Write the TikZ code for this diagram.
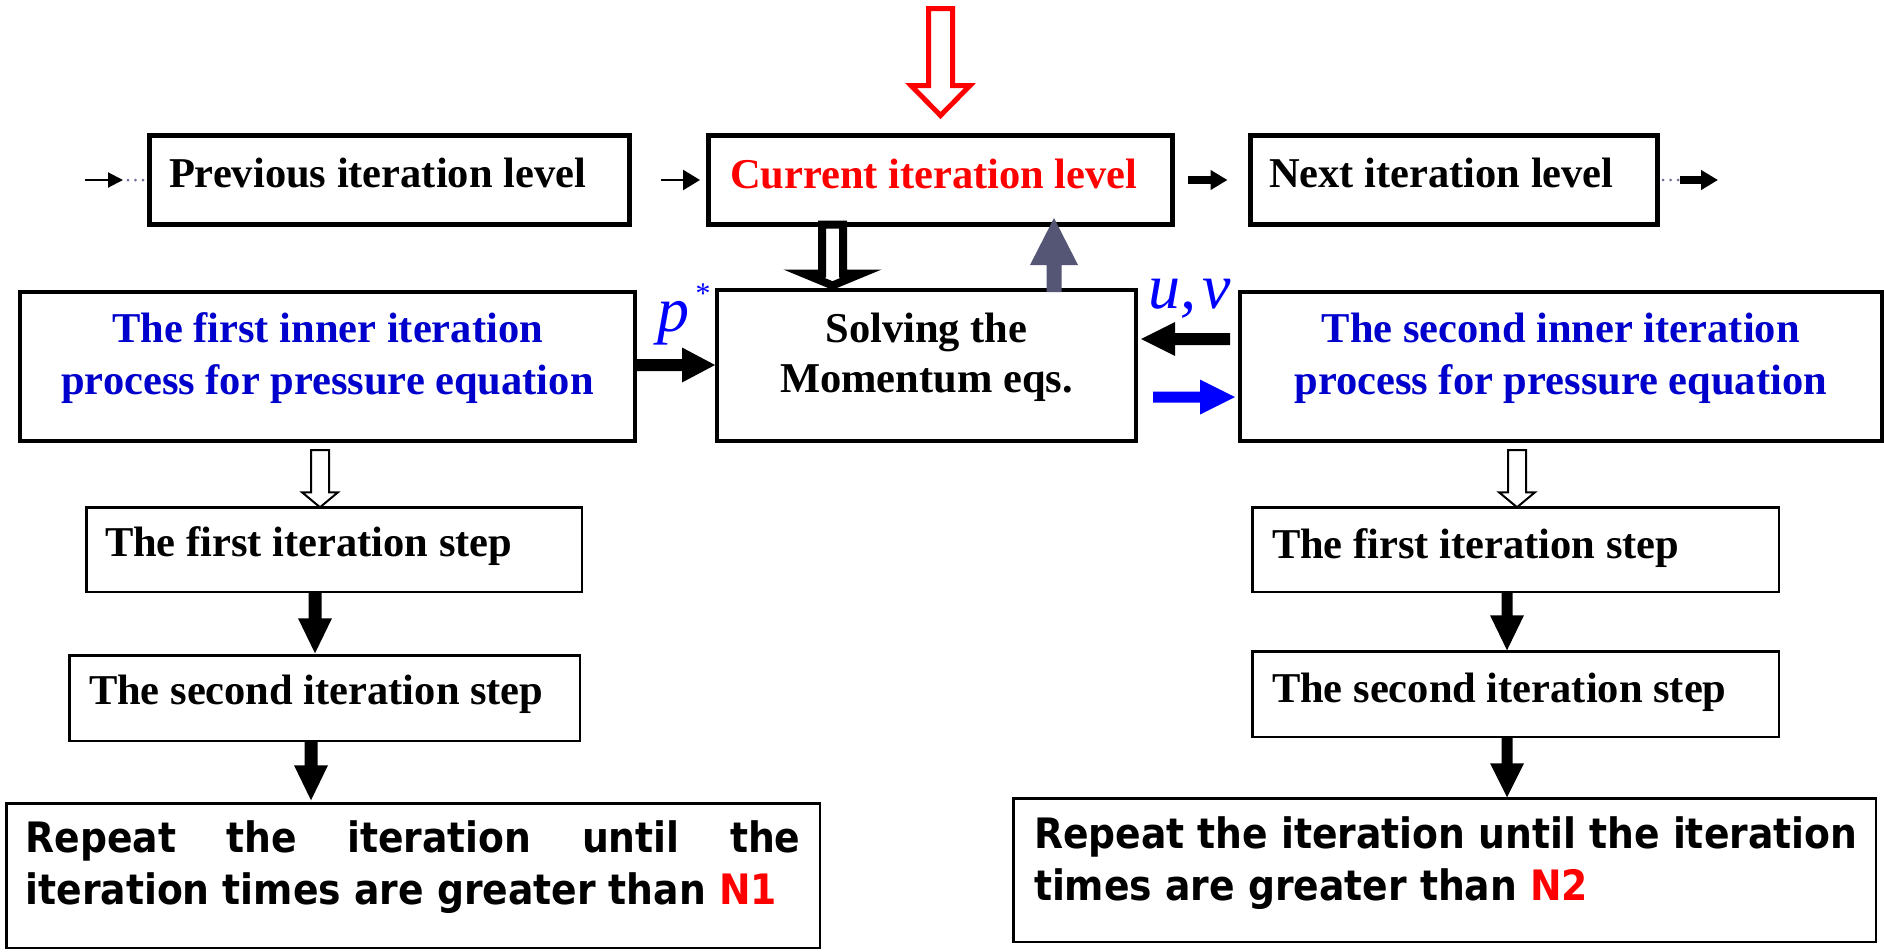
\documentclass[tikz,border=0pt]{standalone}
\usepackage{fontspec}
\setmainfont{Liberation Serif}
\newfontfamily\dejasans{DejaVu Sans}[FakeStretch=0.9]
\newfontfamily\labelserif{Liberation Serif}
\usetikzlibrary{calc,arrows.meta}
\definecolor{txtblue}{RGB}{0,0,204}
\definecolor{pureblue}{RGB}{0,0,255}
\definecolor{slate}{RGB}{85,85,117}
\definecolor{dotgray}{RGB}{110,110,150}
\newcommand\serifbig{\fontsize{42.5}{52}\selectfont\bfseries}
\newcommand\sansbig{\dejasans\fontsize{41.9}{52}\selectfont\bfseries}
% #1 style, #2 start, #3 tip, #4 shaft half width, #5 head half width, #6 head length
\newcommand\blockarrow[6]{%
  \coordinate (bahead) at ($(#3)!#6!(#2)$);
  \path[#1] ($(#2)!#4!90:(#3)$) -- ($(bahead)!#4!90:(#3)$) -- ($(bahead)!#5!90:(#3)$) -- (#3)
    -- ($(bahead)!#5!-90:(#3)$) -- ($(bahead)!#4!-90:(#3)$) -- ($(#2)!#4!-90:(#3)$) -- cycle;}
\begin{document}
\begin{tikzpicture}[x=1pt,y=-1pt,
  mybox/.style={draw, inner sep=0pt, outer sep=0pt},
  topbox/.style={mybox, line width=5pt, font=\serifbig, minimum height=89pt},
  innerbox/.style={mybox, line width=4pt, font=\serifbig, text=txtblue, minimum height=149pt, text height=20pt, text depth=69pt},
  stepbox/.style={mybox, line width=2.5pt, font=\serifbig},
  repbox/.style={mybox, line width=2.5pt, font=\sansbig},
  mathlabel/.style={anchor=base west, inner sep=0pt, text=pureblue, font={\labelserif\fontsize{64}{64}\selectfont\itshape}},
  tarrow/.style={line width=2pt, -{Triangle[length=15pt,width=15pt]}},
  marrow/.style={line width=2.5pt, -{Triangle[length=17pt,width=20pt]}},
  karrow/.style={line width=8pt, -{Triangle[length=17pt,width=19pt]}},
  dotline/.style={draw=dotgray, line width=3pt, line cap=round, dash pattern=on 0pt off 7.5pt},
  redopen/.style={draw=red, line width=5pt, fill=white, line join=miter},
  blackopen/.style={draw=black, line width=8pt, fill=white, line join=miter},
  smallopen/.style={draw=black, line width=2pt, fill=white, line join=miter},
  solidarr/.style={fill=black},
  grayarr/.style={fill=slate},
  bluearr/.style={fill=pureblue}]
\useasboundingbox (0,0) rectangle (1884,951);

% top row
\node[topbox, minimum width=480pt, text height=30pt, text depth=16pt] (prev) at (389.5,180) {\makebox[441pt][l]{Previous iteration level}};
\node[topbox, minimum width=464pt, text height=31pt, text depth=15pt, text=red] (cur) at (940.5,180) {\makebox[421pt][l]{Current iteration level}};
\node[topbox, minimum width=407pt, text height=30pt, text depth=16pt] (next) at (1454,180) {\makebox[370pt][l]{Next iteration level}};

% middle row
\node[innerbox, minimum width=615pt] (in1) at (327.5,366.5) {\begin{tabular}[t]{@{}c@{}}The first inner iteration\\process for pressure equation\end{tabular}};
\node[mybox, line width=3.5pt, font={\fontsize{42.5}{50}\selectfont\bfseries}, minimum width=419pt, minimum height=151pt, text height=20pt, text depth=67pt] (solv) at (926.5,365.5) {\begin{tabular}[t]{@{}c@{}}Solving the\\Momentum eqs.\end{tabular}};
\node[innerbox, minimum width=641.5pt] (in2) at (1560.75,366.5) {\begin{tabular}[t]{@{}c@{}}The second inner iteration\\process for pressure equation\end{tabular}};

% step boxes
\node[stepbox, minimum width=495.5pt, minimum height=84.5pt, text height=30pt, text depth=17pt] (s1L) at (334,549.5) {\makebox[458pt][l]{The first iteration step}};
\node[stepbox, minimum width=510.5pt, minimum height=85.5pt, text height=30pt, text depth=18pt] (s2L) at (324.5,698) {\makebox[471pt][l]{The second iteration step}};
\node[stepbox, minimum width=526.5pt, minimum height=84.5pt, text height=32pt, text depth=15pt] (s1R) at (1515.5,549.5) {\makebox[487pt][l]{The first iteration step}};
\node[stepbox, minimum width=526.5pt, minimum height=85.5pt, text height=31pt, text depth=15pt] (s2R) at (1515.5,694) {\makebox[487pt][l]{The second iteration step}};

% repeat boxes
\node[repbox, minimum width=813.5pt, minimum height=144.5pt, text height=20pt, text depth=67pt] (rL) at (413,875.5) {\begin{tabular}[t]{@{}l@{}}\makebox[775pt][s]{Repeat the iteration until the}\\iteration times are greater than \textcolor{red}{N1}\end{tabular}};
\node[repbox, minimum width=862.5pt, minimum height=143.5pt, text height=20pt, text depth=64pt] (rR) at (1444.5,870) {\makebox[821pt][l]{\begin{tabular}[t]{@{}l@{}}Repeat the iteration until the iteration\\times are greater than \textcolor{red}{N2}\end{tabular}}};

% labels
\node[mathlabel] (pstar) at (657,331) {p\hspace{5pt}\raisebox{28pt}{\fontsize{30}{30}\selectfont *}};
\node[mathlabel] (uv) at (1148,308) {u,\hspace{6pt}v};

% top chain arrows
\coordinate (inL) at (85,180);
\coordinate (inM) at (123,180);
\draw[tarrow] (inL) -- (inM);
\draw[dotline, shorten <=5pt] (inM) -- (prev.west);
\draw[marrow, shorten <=31.5pt, shorten >=8.5pt] (prev.east) -- (cur.west);
\draw[karrow, shorten <=15.5pt, shorten >=23pt] (cur.east) -- (next.west);
\coordinate (outM) at (1680,180);
\coordinate (outR) at (1718,180);
\draw[dotline, shorten <=5.5pt] (next.east) -- (outM);
\draw[karrow] (outM) -- (outR);

% red open arrow into current level
\coordinate (redtop) at ($(cur.north)+(0,-127)$);
\coordinate (redtip) at ($(cur.north)+(0,-20)$);
\blockarrow{redopen}{redtop}{redtip}{12pt}{29.5pt}{30pt}

% current -> solving (open black)
\coordinate (oa1) at ($(cur.south)+(-108,0)$);
\coordinate (oa2) at ($(oa1 |- solv.north)+(0,-4.5)$);
\blockarrow{blackopen}{oa1}{oa2}{10.5pt}{29pt}{12pt}

% solving -> current (gray)
\coordinate (ga1) at ($(solv.north)+(127.5,2)$);
\coordinate (ga2) at ($(ga1 |- cur.south)+(0,-6.5)$);
\blockarrow{grayarr}{ga1}{ga2}{7.5pt}{24pt}{47pt}

% p* arrow
\coordinate (pa1) at ($(in1.east)+(1,-1.5)$);
\coordinate (pa2) at ($(solv.west)+(-2,-0.5)$);
\blockarrow{solidarr}{pa1}{pa2}{6pt}{17.5pt}{33pt}

% u,v arrow
\coordinate (ua1) at ($(in2.west)+(-10,-27.5)$);
\coordinate (ua2) at ($(ua1 -| solv.east)+(5,0)$);
\blockarrow{solidarr}{ua1}{ua2}{6pt}{17pt}{34pt}

% blue arrow
\coordinate (ba1) at ($(solv.east)+(17,31.5)$);
\coordinate (ba2) at ($(ba1 -| in2.west)+(-5,0)$);
\blockarrow{bluearr}{ba1}{ba2}{5.5pt}{17.5pt}{35pt}

% small open arrows
\coordinate (so1) at ($(in1.south)+(-7.5,9)$);
\coordinate (so2) at (so1 |- s1L.north);
\blockarrow{smallopen}{so1}{so2}{9pt}{18pt}{15pt}
\coordinate (so3) at ($(in2.south)+(-43.75,9)$);
\coordinate (so4) at (so3 |- s1R.north);
\blockarrow{smallopen}{so3}{so4}{9pt}{18pt}{15pt}

% solid step arrows, left
\coordinate (da1) at ($(s1L.south)+(-19,0)$);
\coordinate (da2) at ($(da1 |- s2L.north)+(0,-2)$);
\blockarrow{solidarr}{da1}{da2}{6.5pt}{17pt}{35pt}
\coordinate (da3) at ($(s2L.south)+(-13.5,0)$);
\coordinate (da4) at ($(da3 |- rL.north)+(0,-3)$);
\blockarrow{solidarr}{da3}{da4}{6.5pt}{17pt}{35pt}

% solid step arrows, right
\coordinate (db1) at ($(s1R.south)+(-8.5,0)$);
\coordinate (db2) at ($(db1 |- s2R.north)+(0,-1)$);
\blockarrow{solidarr}{db1}{db2}{5.5pt}{17pt}{35pt}
\coordinate (db3) at ($(s2R.south)+(-8.5,0)$);
\coordinate (db4) at ($(db3 |- rR.north)+(0,-1)$);
\blockarrow{solidarr}{db3}{db4}{5.5pt}{17pt}{34pt}
\end{tikzpicture}
\end{document}
